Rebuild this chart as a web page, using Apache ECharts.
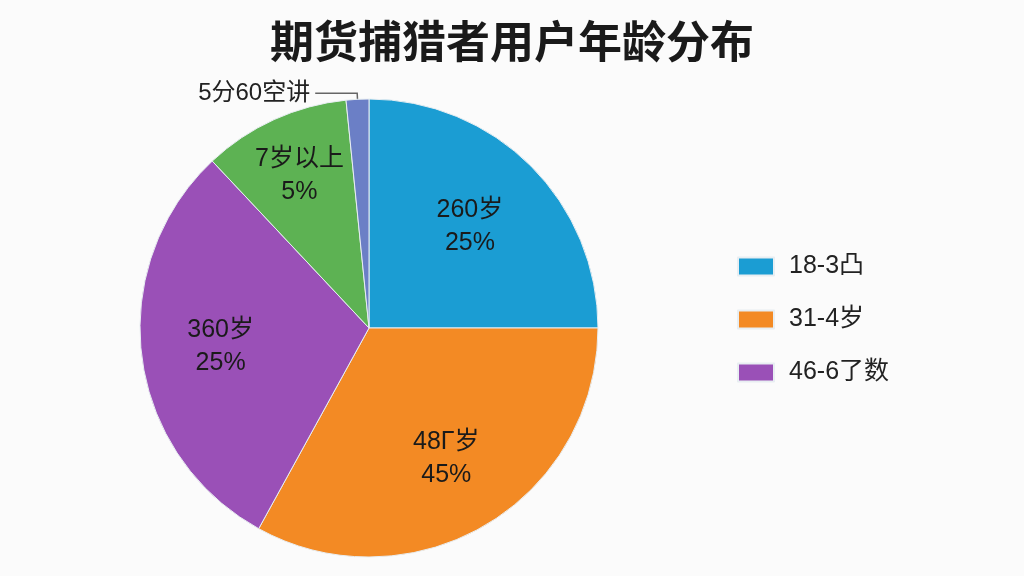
<!DOCTYPE html>
<html lang="zh">
  <head>
    <meta charset="UTF-8" />
    <title>期货捕猎者用户年龄分布</title>
    <style>
      html, body { margin: 0; padding: 0; background: #fbfbfb; }
      #main { width: 1024px; height: 576px; }
    </style>
  </head>
  <body>
    <div id="main"></div>
    <script src="https://cdn.jsdelivr.net/npm/echarts@6/dist/echarts.min.js"></script>
    <script>
      // 切片名称（前三个出现在图例中）
      const sliceNames = ["18-3凸", "31-4岁", "46-6了数", "7岁以上", "5分60空讲"];
      // 从图中量出的扇区大小（按角度估算）
      const sliceValues = [25, 33, 30, 10.4, 1.6];
      // 扇区内的文字
      const labelNames = ["260岁", "48Γ岁", "360岁", "7岁以上", "5分60空讲"];
      const labelPercents = ["25%", "45%", "25%", "5%", ""];
      const sliceColors = ["#1b9dd3", "#f38a24", "#9a50b7", "#5db253", "#6b7fc6"];
      const legendNames = sliceNames.slice(0, 3);
      // 标签离圆心的距离（半径的比例）
      const labelRadius = [0.61, 0.65, 0.64, 0.72];

      const R = 229;
      const chart = echarts.init(document.getElementById("main"));
      const font = "'Liberation Sans', 'Noto Sans CJK SC', sans-serif";

      // 默认 inside 标签在 0.5 半径处，按扇区中角把它推远一些
      const total = sliceValues.reduce((a, b) => a + b, 0);
      let acc = 0;
      const data = sliceNames.map((name, i) => {
        const mid = (acc + sliceValues[i] / 2) / total * 2 * Math.PI;
        acc += sliceValues[i];
        const item = {
          name: name,
          value: sliceValues[i],
          itemStyle: { color: sliceColors[i] },
        };
        if (i < 4) {
          const d = (labelRadius[i] - 0.5) * R;
          item.label = { offset: [d * Math.sin(mid), -d * Math.cos(mid)] };
        } else {
          item.label = {
            position: "outside",
            formatter: labelNames[i],
            fontSize: 24,
            color: "#222",
          };
          item.labelLine = {
            show: true,
            length: 6,
            length2: 42,
            lineStyle: { color: "#666", width: 1.5 },
          };
        }
        return item;
      });

      chart.setOption({
        backgroundColor: "#fbfbfb",
        textStyle: { fontFamily: font },
        title: {
          text: "期货捕猎者用户年龄分布",
          left: "center",
          top: 14,
          textStyle: { fontSize: 44, fontWeight: "bold", color: "#1a1a1a", fontFamily: "'Noto Sans CJK SC', sans-serif" },
        },
        legend: {
          data: legendNames,
          orient: "vertical",
          left: 732,
          top: 249,
          itemWidth: 36,
          itemHeight: 18,
          itemGap: 28,
          icon: "rect",
          textStyle: { fontSize: 25, color: "#222", fontFamily: font, padding: [0, 0, 0, 10] },
        },
        series: [
          {
            type: "pie",
            center: [369, 328],
            radius: R,
            startAngle: 90,
            clockwise: true,
            avoidLabelOverlap: false,
            itemStyle: { borderColor: "#e8eef2", borderWidth: 1 },
            label: {
              position: "inside",
              fontSize: 25,
              lineHeight: 33,
              color: "#1a1a1a",
              fontFamily: font,
              formatter: (p) => labelNames[p.dataIndex] + "\n" + labelPercents[p.dataIndex],
            },
            labelLine: { show: false },
            emphasis: { disabled: true },
            data: data,
          },
        ],
      });
    </script>
  </body>
</html>
